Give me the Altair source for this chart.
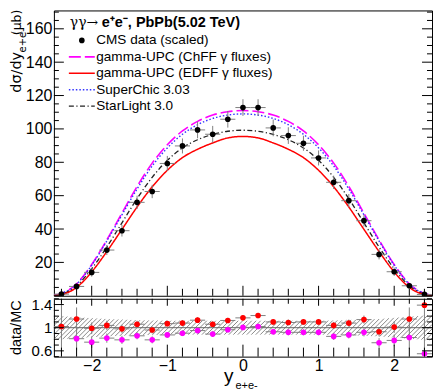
import altair as alt
import numpy as np
import pandas as pd

# ---------------- data ----------------
bins = [-2.4, -2.2, -2.0, -1.8, -1.6, -1.4, -1.2, -1.0, -0.8, -0.6, -0.4, -0.2, 0.0,
        0.2, 0.4, 0.6, 0.8, 1.0, 1.2, 1.4, 1.6, 1.8, 2.0, 2.2, 2.4]
cms = [1.0, 5.6, 14.0, 27.4, 39.0, 56.0, 62.5, 79.3, 89.8, 99.4, 96.8, 105.8, 112.8,
       112.8, 100.6, 96.0, 91.4, 82.6, 68.0, 57.0, 45.0, 24.8, 14.4, 6.0, 0.8]
cms_err = [0.6, 1.5, 2.5, 3.0, 3.5, 4.0, 4.0, 4.5, 4.5, 5.0, 5.0, 5.0, 5.0,
           5.0, 5.0, 5.0, 4.5, 4.5, 4.0, 4.0, 3.5, 3.0, 2.5, 1.5, 0.6]
bin_half = 0.1

model_x = [-2.5, -2.4, -2.2, -2.0, -1.8, -1.6, -1.4, -1.2, -1.0, -0.8, -0.6, -0.4, -0.2, 0.0,
           0.2, 0.4, 0.6, 0.8, 1.0, 1.2, 1.4, 1.6, 1.8, 2.0, 2.2, 2.4, 2.5]
chff = [0.2, 1.3, 7.2, 18.7, 33.5, 49.5, 65.5, 79.5, 90.5, 98.8, 104.5, 108.3, 110.3, 111.0,
        110.3, 108.3, 104.5, 98.8, 90.5, 79.5, 65.5, 49.5, 33.5, 18.7, 7.2, 1.3, 0.2]
edff = [0.1, 0.7, 5.0, 14.3, 26.5, 39.8, 53.2, 65.3, 75.2, 82.8, 87.8, 91.6, 94.6, 95.5,
        94.6, 91.6, 87.8, 82.8, 75.2, 65.3, 53.2, 39.8, 26.5, 14.3, 5.0, 0.7, 0.1]
superchic = [0.2, 1.3, 7.0, 18.3, 32.8, 48.5, 64.0, 77.8, 88.6, 96.8, 102.5, 106.3, 108.3, 109.0,
             108.3, 106.3, 102.5, 96.8, 88.6, 77.8, 64.0, 48.5, 32.8, 18.3, 7.0, 1.3, 0.2]
starlight = [0.1, 0.9, 6.0, 16.2, 29.2, 43.7, 58.2, 71.0, 81.2, 88.6, 93.5, 96.7, 98.6, 99.2,
             98.6, 96.7, 93.5, 88.6, 81.2, 71.0, 58.2, 43.7, 29.2, 16.2, 6.0, 0.9, 0.1]

ratio_edff = [1.02, 1.15, 0.99, 1.04, 0.98, 1.06, 0.96, 1.07, 1.08, 1.13, 1.06, 1.125, 1.17,
              1.21, 1.10, 1.09, 1.10, 1.10, 1.04, 1.08, 1.14, 0.93, 1.01, 1.15, 1.39]
ratio_chff = [None, 0.81, 0.75, 0.82, 0.79, 0.86, 0.79, 0.875, 0.905, 0.95, 0.89, 0.965, 1.005,
              1.02, 0.93, 0.92, 0.92, 0.92, 0.85, 0.875, 0.92, 0.74, 0.78, 0.83, 0.55]
ratio_err = [0.5, 0.2, 0.1, 0.08, 0.07, 0.06, 0.06, 0.05, 0.05, 0.05, 0.05, 0.045, 0.045,
             0.045, 0.045, 0.05, 0.05, 0.05, 0.06, 0.06, 0.07, 0.08, 0.1, 0.2, 0.5]

band_x = [-2.5, -2.2, -1.8, -1.4, -1.0, 0.0, 1.0, 1.4, 1.8, 2.2, 2.5]
band_lo = [0.79, 0.82, 0.85, 0.87, 0.88, 0.88, 0.88, 0.87, 0.85, 0.81, 0.78]
band_hi = [1.21, 1.18, 1.15, 1.13, 1.12, 1.12, 1.12, 1.13, 1.15, 1.19, 1.22]

legend_labels = ["CMS data (scaled)", "gamma-UPC (ChFF \u03b3 fluxes)",
                 "gamma-UPC (EDFF \u03b3 fluxes)", "SuperChic 3.03", "StarLight 3.0"]
top_y_labels = [20, 40, 60, 80, 100, 120, 140, 160]
ratio_y_labels = [0.6, 1, 1.4]
x_labels = [-2, -1, 0, 1, 2]

# ---------------- layout / style ----------------
W, HT, HR = 379, 286, 58
GUARD = -44
FONT = "Liberation Sans"
TFONT = "DejaVu Sans"
C_CHFF, C_EDFF, C_SC, C_SL = "#ff00ff", "#ff0000", "#3333ff", "#222222"
DASH = {"chff": [12, 4], "edff": [1, 0], "sc": [1.5, 2], "sl": [5, 2.5, 1.2, 2.5]}
ERRC = "#808080"

xsc = alt.Scale(domain=[-2.5, 2.5], nice=False, zero=False)
ysc_t = alt.Scale(domain=[0, 171], nice=False, zero=False)
ysc_r = alt.Scale(domain=[0.5, 1.5], nice=False, zero=False)

ax_yt = alt.Axis(values=top_y_labels, ticks=False, domain=False, grid=False, labelFontSize=16,
                 labelPadding=2, labelFont=FONT, labelColor="black", title=None,
                 labelFlush=False, labelOverlap=False)
ax_yr = alt.Axis(values=ratio_y_labels, format="~g", ticks=False, domain=False, grid=False,
                 labelFontSize=15, labelPadding=2, labelFont=FONT, labelColor="black",
                 title=None, labelFlush=False, labelOverlap=False)
ax_xr = alt.Axis(values=x_labels, format="~g", ticks=False, domain=False, grid=False,
                 labelFontSize=16, labelPadding=1, labelFont=FONT, labelColor="black",
                 title=None, labelFlush=False, labelOverlap=False)


def XT(f):
    return alt.X(f, type="quantitative", scale=xsc, axis=None)


def YT(f):
    return alt.Y(f, type="quantitative", scale=ysc_t, axis=ax_yt)


def XR(f):
    return alt.X(f, type="quantitative", scale=xsc, axis=ax_xr)


def YR(f):
    return alt.Y(f, type="quantitative", scale=ysc_r, axis=ax_yr)


one = pd.DataFrame({"a": [0]})


def txt(s, x, y, size, **kw):
    return alt.Chart(one).mark_text(text=s, fontSize=size, font=kw.pop("font", FONT),
                                    color="black", **kw).encode(x=alt.value(x), y=alt.value(y))


# ---------------- top panel ----------------
layers_t = []
for vals, col, key, sw in [(chff, C_CHFF, "chff", 1.6), (superchic, C_SC, "sc", 1.4),
                           (starlight, C_SL, "sl", 1.3), (edff, C_EDFF, "edff", 1.5)]:
    d = pd.DataFrame({"x": model_x, "v": vals})
    layers_t.append(alt.Chart(d).mark_line(color=col, strokeWidth=sw, strokeDash=DASH[key],
                                           interpolate="monotone", clip=True)
                    .encode(x=XT("x"), y=YT("v")))

dcms = pd.DataFrame({"x": bins, "v": cms, "e": cms_err})
dcms["lo"] = dcms["v"] - dcms["e"]
dcms["hi"] = dcms["v"] + dcms["e"]
dcms["xl"] = dcms["x"] - bin_half
dcms["xh"] = dcms["x"] + bin_half
layers_t.append(alt.Chart(dcms).mark_rule(color=ERRC, strokeWidth=1, clip=True)
                .encode(x=XT("x"), y=YT("lo"), y2=alt.Y2("hi")))
layers_t.append(alt.Chart(dcms).mark_rule(color=ERRC, strokeWidth=1, clip=True)
                .encode(x=XT("xl"), x2=alt.X2("xh"), y=YT("v")))
layers_t.append(alt.Chart(dcms).mark_circle(color="black", size=32, opacity=1, clip=True)
                .encode(x=XT("x"), y=YT("v")))

# inner ticks
yt = pd.DataFrame({"v": np.arange(0, 171, 5)})
yt_major = yt[yt["v"] % 20 == 0]
yt_minor = yt[yt["v"] % 20 != 0]
xt = pd.DataFrame({"x": np.round(np.arange(-2.4, 2.41, 0.2), 1)})
xt_major = xt[np.isclose(xt["x"] % 1, 0) | np.isclose(xt["x"] % 1, 1)]
xt_minor = xt.drop(xt_major.index)
for d, ln in [(yt_major, 10), (yt_minor, 5)]:
    layers_t.append(alt.Chart(d).mark_rule(color="black", strokeWidth=1)
                    .encode(y=YT("v"), x=alt.value(0), x2=alt.value(ln)))
    layers_t.append(alt.Chart(d).mark_rule(color="black", strokeWidth=1)
                    .encode(y=YT("v"), x=alt.value(W - ln), x2=alt.value(W)))
for d, ln in [(xt_major, 10), (xt_minor, 7)]:
    layers_t.append(alt.Chart(d).mark_rule(color="black", strokeWidth=1)
                    .encode(x=XT("x"), y=alt.value(HT - ln), y2=alt.value(HT)))

# legend
layers_t.append(txt("\u03b3\u03b3\u2192", 16, 13, 14, font="DejaVu Serif", align="left",
                    baseline="middle"))
layers_t.append(txt("e\u207ae\u207b, PbPb(5.02 TeV)", 48, 13, 14.5, align="left",
                    baseline="middle", fontWeight="bold"))
rows = [30, 46.5, 63, 79.5, 96]
for lab, ry in zip(legend_labels, rows):
    layers_t.append(txt(lab, 42.5, ry, 13.6, align="left", baseline="middle"))
layers_t.append(alt.Chart(one).mark_circle(color="black", size=32, opacity=1)
                .encode(x=alt.value(28), y=alt.value(rows[0])))
for (col, key, sw), ry in zip([(C_CHFF, "chff", 1.6), (C_EDFF, "edff", 1.5),
                               (C_SC, "sc", 1.4), (C_SL, "sl", 1.3)], rows[1:]):
    layers_t.append(alt.Chart(one).mark_rule(color=col, strokeWidth=sw, strokeDash=DASH[key])
                    .encode(x=alt.value(15), x2=alt.value(41), y=alt.value(ry)))

# y title (rotated pieces)
layers_t.append(txt("d\u03c3/dy", -37, 62, 14.5, font=TFONT, angle=270, align="center",
                    baseline="middle"))
layers_t.append(txt("e+e-", -30.5, 30, 10, font=TFONT, angle=270, align="center",
                    baseline="middle"))
layers_t.append(txt("(\u03bcb)", -37, 12, 12.5, font=TFONT, angle=270, align="center",
                    baseline="middle"))
# alignment guard (invisible)
layers_t.append(alt.Chart(one).mark_rule(strokeOpacity=0)
                .encode(x=alt.value(GUARD), y=alt.value(100), y2=alt.value(110)))

top = alt.layer(*layers_t).properties(width=W, height=HT)

# ---------------- ratio panel ----------------
layers_r = []


def hatch(spacing=4.5):
    xs = np.linspace(-2.5, 2.5, 4001)
    lo = np.interp(xs, band_x, band_lo)
    hi = np.interp(xs, band_x, band_hi)
    px = (xs + 2.5) / 5.0 * W
    glo = px + (1.5 - lo) * HR
    ghi = px + (1.5 - hi) * HR
    segs = []
    for k in np.arange(ghi[0] + 1.0, glo[-1], spacing):
        if k <= glo[0]:
            x0, r0 = -2.5, 1.5 - k / HR
        else:
            x0 = float(np.interp(k, glo, xs))
            r0 = float(np.interp(x0, band_x, band_lo))
        if k >= ghi[-1]:
            x1, r1 = 2.5, 1.5 - (k - W) / HR
        else:
            x1 = float(np.interp(k, ghi, xs))
            r1 = float(np.interp(x1, band_x, band_hi))
        segs.append((x0, r0, x1, r1))
    return pd.DataFrame(segs, columns=["x", "r", "x2", "r2"])


layers_r.append(alt.Chart(hatch()).mark_rule(color="#555555", strokeWidth=0.7, clip=True)
                .encode(x=XR("x"), x2=alt.X2("x2"), y=YR("r"), y2=alt.Y2("r2")))
layers_r.append(alt.Chart(pd.DataFrame({"r": [1.0]})).mark_rule(color="#666666", strokeWidth=1)
                .encode(y=YR("r")))

for vals, col in [(ratio_chff, C_CHFF), (ratio_edff, C_EDFF)]:
    d = pd.DataFrame({"x": bins, "r": vals, "e": ratio_err}).dropna()
    d["lo"] = d["r"] - d["e"]
    d["hi"] = d["r"] + d["e"]
    d["xl"] = d["x"] - bin_half
    d["xh"] = d["x"] + bin_half
    layers_r.append(alt.Chart(d).mark_rule(color=ERRC, strokeWidth=1, clip=True)
                    .encode(x=XR("x"), y=YR("lo"), y2=alt.Y2("hi")))
    layers_r.append(alt.Chart(d).mark_rule(color=ERRC, strokeWidth=1, clip=True)
                    .encode(x=XR("xl"), x2=alt.X2("xh"), y=YR("r")))
    layers_r.append(alt.Chart(d).mark_circle(color=col, size=32, opacity=1, clip=True)
                    .encode(x=XR("x"), y=YR("r")))

rt = pd.DataFrame({"r": np.round(np.arange(0.5, 1.51, 0.1), 1)})
rt_major = rt[rt["r"].isin(ratio_y_labels)]
rt_minor = rt.drop(rt_major.index)
for d, ln in [(rt_major, 10), (rt_minor, 5)]:
    layers_r.append(alt.Chart(d).mark_rule(color="black", strokeWidth=1)
                    .encode(y=YR("r"), x=alt.value(0), x2=alt.value(ln)))
    layers_r.append(alt.Chart(d).mark_rule(color="black", strokeWidth=1)
                    .encode(y=YR("r"), x=alt.value(W - ln), x2=alt.value(W)))
for d, ln_b, ln_t in [(xt_major, 12, 7), (xt_minor, 9, 5)]:
    layers_r.append(alt.Chart(d).mark_rule(color="black", strokeWidth=1)
                    .encode(x=XR("x"), y=alt.value(HR - ln_b), y2=alt.value(HR)))
    layers_r.append(alt.Chart(d).mark_rule(color="black", strokeWidth=1)
                    .encode(x=XR("x"), y=alt.value(0), y2=alt.value(ln_t)))

layers_r.append(txt("data/MC", -36.5, 29, 14.5, angle=270, align="center", baseline="middle"))
layers_r.append(txt("y", 170.5, 83, 19, align="left", baseline="alphabetic"))
layers_r.append(txt("e+e-", 182, 90, 11, align="left", baseline="alphabetic"))
layers_r.append(alt.Chart(one).mark_rule(strokeOpacity=0)
                .encode(x=alt.value(GUARD), y=alt.value(20), y2=alt.value(30)))

bottom = alt.layer(*layers_r).properties(width=W, height=HR)

chart = (alt.vconcat(top, bottom, spacing=0)
         .properties(padding=0)
         .configure_view(stroke="black", strokeWidth=1)
         .configure_axis(labelFont=FONT))

chart.save("out.html", embed_options={"renderer": "svg", "actions": False})
